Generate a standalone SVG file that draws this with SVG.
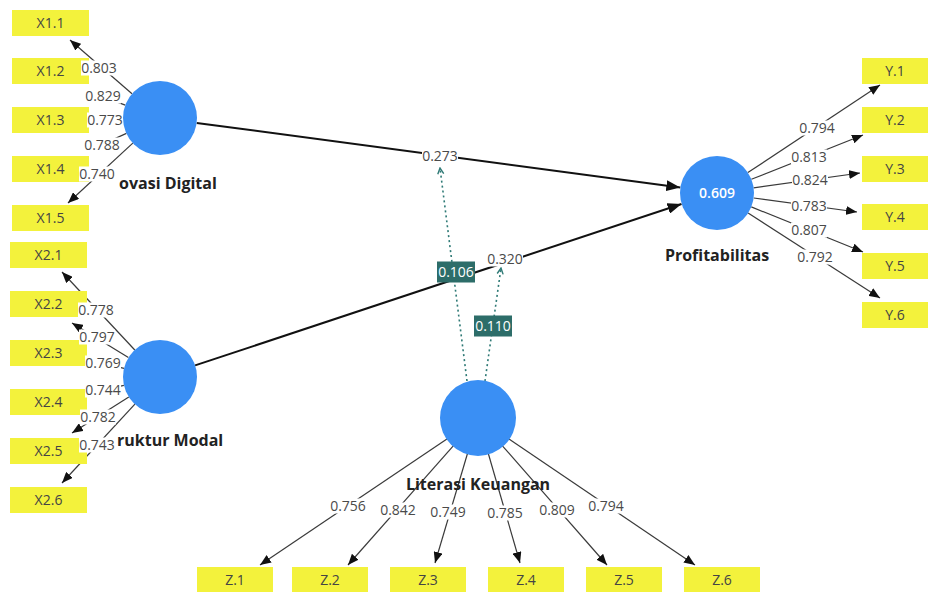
<svg xmlns="http://www.w3.org/2000/svg" width="928" height="592" viewBox="0 0 928 592">
<defs>
<style>
.ind rect{fill:#f3f23c}
.ind text{font-family:"Open Sans","Liberation Sans",sans-serif;font-size:14px;fill:#444;text-anchor:middle}
.lv circle{fill:#3a8ff4}
.lvname{font-family:"Open Sans","Liberation Sans",sans-serif;font-size:16px;font-weight:bold;fill:#222}
.r2{font-family:"Open Sans","Liberation Sans",sans-serif;font-size:14px;font-weight:600;fill:#fff;text-anchor:middle}
.ol line{stroke:#3a3a3a;stroke-width:1.2;marker-end:url(#ah)}
.sp line{stroke:#111;stroke-width:2;marker-end:url(#ahb)}
.mod line{stroke:#2f7a76;stroke-width:1.6;stroke-dasharray:2 3;marker-end:url(#ch)}
.lb rect{fill:#fff}
.lb text{font-family:"Open Sans","Liberation Sans",sans-serif;font-size:14px;fill:#4a4a4a;text-anchor:middle}
.tl rect{fill:#2d6d69}
.tl text{font-family:"Open Sans","Liberation Sans",sans-serif;font-size:14px;fill:#fff;text-anchor:middle}
</style>
<marker id="ah" markerUnits="userSpaceOnUse" markerWidth="11" markerHeight="9" refX="11" refY="4.5" orient="auto"><path d="M0,0 L11,4.5 L0,9 z" fill="#111"/></marker>
<marker id="ahb" markerUnits="userSpaceOnUse" markerWidth="14" markerHeight="11" refX="14" refY="5.5" orient="auto"><path d="M0,0 L14,5.5 L0,11 z" fill="#111"/></marker>
<marker id="ch" markerUnits="userSpaceOnUse" markerWidth="8" markerHeight="8" refX="7" refY="4" orient="auto"><path d="M1,1 L7,4 L1,7" fill="none" stroke="#2f7a76" stroke-width="1.4"/></marker>
</defs>
<rect width="928" height="592" fill="#fff"/>

<g id="connectors">
<g class="ol">
<line x1="132" y1="93.8" x2="70" y2="40"/>
<line x1="125.3" y1="105.1" x2="90" y2="92"/>
<line x1="123" y1="119" x2="90" y2="120"/>
<line x1="126.4" y1="133.4" x2="90" y2="150"/>
<line x1="132.8" y1="143.1" x2="68" y2="203"/>
<line x1="134.8" y1="350" x2="62" y2="272"/>
<line x1="128.4" y1="357.6" x2="72" y2="323"/>
<line x1="124" y1="368.3" x2="90" y2="360"/>
<line x1="123.9" y1="385.3" x2="90" y2="393"/>
<line x1="128.8" y1="396.9" x2="72" y2="433"/>
<line x1="134.9" y1="404.2" x2="62" y2="483"/>
<line x1="747.9" y1="172.6" x2="880" y2="85"/>
<line x1="751.4" y1="179.3" x2="863" y2="135"/>
<line x1="753.6" y1="187.9" x2="860" y2="173"/>
<line x1="753.7" y1="198" x2="857" y2="212"/>
<line x1="751.3" y1="206.9" x2="863" y2="252"/>
<line x1="748.1" y1="213" x2="880" y2="298"/>
<line x1="447.3" y1="438.7" x2="260" y2="565"/>
<line x1="453.5" y1="445.7" x2="348" y2="565"/>
<line x1="467.5" y1="453.5" x2="435" y2="563"/>
<line x1="488.3" y1="453.5" x2="520" y2="563"/>
<line x1="502.4" y1="445.8" x2="607" y2="565"/>
<line x1="508.6" y1="438.8" x2="695" y2="565"/>
</g>
<g class="sp">
<line x1="196.7" y1="122.9" x2="680.3" y2="187.5"/>
<line x1="195.1" y1="365.4" x2="681.5" y2="204"/>
</g>
<g class="mod">
<line x1="467" y1="381" x2="440" y2="168"/>
<line x1="485" y1="381" x2="501" y2="268"/>
</g>
</g>

<g id="ind-X1.1" class="ind"><rect x="12" y="10" width="77" height="26"/><text x="50.5" y="28">X1.1</text></g>
<g id="ind-X1.2" class="ind"><rect x="12" y="58" width="77" height="26"/><text x="50.5" y="76">X1.2</text></g>
<g id="ind-X1.3" class="ind"><rect x="12" y="107" width="77" height="26"/><text x="50.5" y="125">X1.3</text></g>
<g id="ind-X1.4" class="ind"><rect x="12" y="156" width="77" height="26"/><text x="50.5" y="174">X1.4</text></g>
<g id="ind-X1.5" class="ind"><rect x="12" y="205" width="77" height="26"/><text x="50.5" y="223">X1.5</text></g>

<g id="ind-X2.1" class="ind"><rect x="10" y="242" width="77" height="26"/><text x="48.5" y="260">X2.1</text></g>
<g id="ind-X2.2" class="ind"><rect x="10" y="291" width="77" height="26"/><text x="48.5" y="309">X2.2</text></g>
<g id="ind-X2.3" class="ind"><rect x="10" y="340" width="77" height="26"/><text x="48.5" y="358">X2.3</text></g>
<g id="ind-X2.4" class="ind"><rect x="10" y="389" width="77" height="26"/><text x="48.5" y="407">X2.4</text></g>
<g id="ind-X2.5" class="ind"><rect x="10" y="438" width="77" height="26"/><text x="48.5" y="456">X2.5</text></g>
<g id="ind-X2.6" class="ind"><rect x="10" y="487" width="77" height="26"/><text x="48.5" y="505">X2.6</text></g>

<g id="ind-Y.1" class="ind"><rect x="862" y="58" width="66" height="26"/><text x="895" y="76">Y.1</text></g>
<g id="ind-Y.2" class="ind"><rect x="862" y="107" width="66" height="26"/><text x="895" y="125">Y.2</text></g>
<g id="ind-Y.3" class="ind"><rect x="862" y="156" width="66" height="26"/><text x="895" y="174">Y.3</text></g>
<g id="ind-Y.4" class="ind"><rect x="862" y="204" width="66" height="26"/><text x="895" y="222">Y.4</text></g>
<g id="ind-Y.5" class="ind"><rect x="862" y="253" width="66" height="26"/><text x="895" y="271">Y.5</text></g>
<g id="ind-Y.6" class="ind"><rect x="862" y="302" width="66" height="26"/><text x="895" y="320">Y.6</text></g>

<g id="ind-Z.1" class="ind"><rect x="197" y="567" width="76" height="26"/><text x="235" y="585">Z.1</text></g>
<g id="ind-Z.2" class="ind"><rect x="292" y="567" width="76" height="26"/><text x="330" y="585">Z.2</text></g>
<g id="ind-Z.3" class="ind"><rect x="390" y="567" width="76" height="26"/><text x="428" y="585">Z.3</text></g>
<g id="ind-Z.4" class="ind"><rect x="488" y="567" width="76" height="26"/><text x="526" y="585">Z.4</text></g>
<g id="ind-Z.5" class="ind"><rect x="586" y="567" width="76" height="26"/><text x="624" y="585">Z.5</text></g>
<g id="ind-Z.6" class="ind"><rect x="684" y="567" width="76" height="26"/><text x="722" y="585">Z.6</text></g>

<g id="lv-inovasi" class="lv"><circle cx="160" cy="118" r="37"/><text class="lvname" x="119" y="189">ovasi Digital</text></g>
<g id="lv-struktur" class="lv"><circle cx="160" cy="377" r="37"/><text class="lvname" x="117" y="446">ruktur Modal</text></g>
<g id="lv-profit" class="lv"><circle cx="717" cy="193" r="37"/><text class="r2" x="717" y="198">0.609</text><text class="lvname" x="717" y="261" text-anchor="middle">Profitabilitas</text></g>
<g id="lv-literasi" class="lv"><circle cx="478" cy="418" r="38"/><text class="lvname" x="478" y="490" text-anchor="middle">Literasi Keuangan</text></g>

<g id="labels">
<g class="lb"><rect x="81" y="60.5" width="36" height="15"/><text x="99" y="73">0.803</text></g>
<g class="lb"><rect x="85" y="88.5" width="36" height="15"/><text x="103" y="101">0.829</text></g>
<g class="lb"><rect x="87" y="112.5" width="36" height="15"/><text x="105" y="125">0.773</text></g>
<g class="lb"><rect x="84" y="137.5" width="36" height="15"/><text x="102" y="150">0.788</text></g>
<g class="lb"><rect x="79" y="166.5" width="36" height="15"/><text x="97" y="179">0.740</text></g>
<g class="lb"><rect x="78" y="302.5" width="36" height="15"/><text x="96" y="315">0.778</text></g>
<g class="lb"><rect x="79" y="329.5" width="36" height="15"/><text x="97" y="342">0.797</text></g>
<g class="lb"><rect x="85" y="355.5" width="36" height="15"/><text x="103" y="368">0.769</text></g>
<g class="lb"><rect x="85" y="382.5" width="36" height="15"/><text x="103" y="395">0.744</text></g>
<g class="lb"><rect x="80" y="409.5" width="36" height="15"/><text x="98" y="422">0.782</text></g>
<g class="lb"><rect x="79" y="437.5" width="36" height="15"/><text x="97" y="450">0.743</text></g>
<g class="lb"><rect x="799" y="120.5" width="36" height="15"/><text x="817" y="133">0.794</text></g>
<g class="lb"><rect x="791" y="149.5" width="36" height="15"/><text x="809" y="162">0.813</text></g>
<g class="lb"><rect x="792" y="172.5" width="36" height="15"/><text x="810" y="185">0.824</text></g>
<g class="lb"><rect x="791" y="198.5" width="36" height="15"/><text x="809" y="211">0.783</text></g>
<g class="lb"><rect x="791" y="222.5" width="36" height="15"/><text x="809" y="235">0.807</text></g>
<g class="lb"><rect x="797" y="249.5" width="36" height="15"/><text x="815" y="262">0.792</text></g>
<g class="lb"><rect x="330" y="498.5" width="36" height="15"/><text x="348" y="511">0.756</text></g>
<g class="lb"><rect x="380" y="502.5" width="36" height="15"/><text x="398" y="515">0.842</text></g>
<g class="lb"><rect x="430" y="504.5" width="36" height="15"/><text x="448" y="517">0.749</text></g>
<g class="lb"><rect x="487" y="505.5" width="36" height="15"/><text x="505" y="518">0.785</text></g>
<g class="lb"><rect x="539" y="502.5" width="36" height="15"/><text x="557" y="515">0.809</text></g>
<g class="lb"><rect x="588" y="498.5" width="36" height="15"/><text x="606" y="511">0.794</text></g>
<g class="lb"><rect x="422" y="148.5" width="36" height="15"/><text x="440" y="161">0.273</text></g>
<g class="lb"><rect x="487" y="251.5" width="36" height="15"/><text x="505" y="264">0.320</text></g>
<g class="tl"><rect x="437" y="261.5" width="38" height="21"/><text x="456" y="277">0.106</text></g>
<g class="tl"><rect x="474" y="315.5" width="38" height="21"/><text x="493" y="331">0.110</text></g>
</g>
</svg>
